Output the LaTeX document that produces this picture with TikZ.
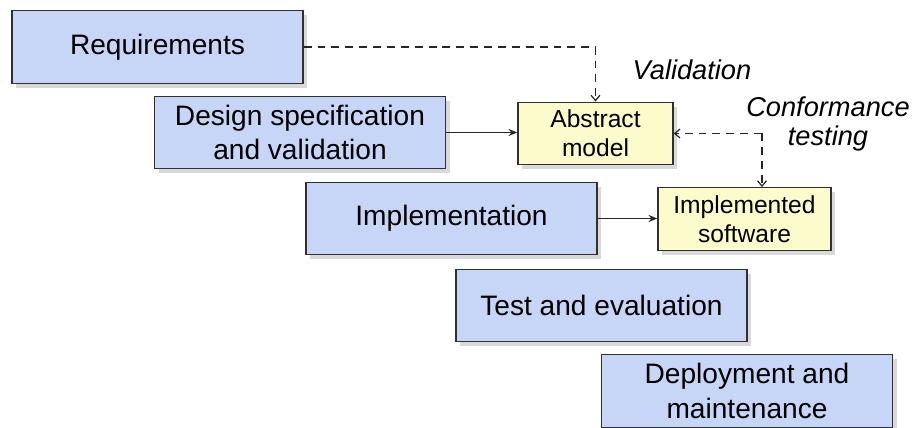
\documentclass[tikz,border=0pt]{standalone}
\usepackage{fontspec}
\setmainfont{Liberation Sans}
\usetikzlibrary{arrows.meta, shadows, positioning}
\definecolor{phaseblue}{HTML}{C7D6F7}
\definecolor{modelyellow}{HTML}{FCFBCC}
\definecolor{edgegray}{HTML}{303030}

\begin{document}
\begin{tikzpicture}[x=0.02cm, y=-0.02cm,
    phase/.style = {rectangle, draw=edgegray, fill=phaseblue, line width=0.8pt, align=center, font=\fontsize{16}{19.5}\selectfont, minimum width=5.82cm, minimum height=1.45cm, inner sep=0pt, drop shadow={shadow xshift=2.5pt, shadow yshift=-2.5pt, opacity=0.3}},
    artefact/.style = {rectangle, draw=edgegray, fill=modelyellow, line width=0.8pt, align=center, font=\fontsize{14}{16.5}\selectfont, minimum height=1.25cm, inner sep=0pt, drop shadow={shadow xshift=2.5pt, shadow yshift=-2.5pt, opacity=0.3}},
    flow/.style = {draw=black!85, -{Stealth[length=5pt, width=4pt]}, line width=0.7pt},
    check/.style = {draw=black!85, dash pattern=on 4.5pt off 3.4pt, -{Straight Barb[length=3pt, width=5pt]}, line width=0.7pt},
    note/.style = {align=center, font=\fontsize{15.5}{16}\selectfont\itshape}
]
\useasboundingbox (0,0) rectangle (920,428);

% Phases (staircase)
\node (req) [phase] at (157.5, 47) {Requirements};
\node (design) [phase] at (300, 132.5) {Design specification\\and validation};
\node (impl) [phase] at (451.5, 218.5) {Implementation};
\node (test) [phase] at (601.5, 305.5) {Test and evaluation};
\node (deploy) [phase] at (747, 391) {Deployment and\\maintenance};

% Artefacts
\node (abstract) [artefact, minimum width=3.1cm] at (595.5, 133.5) {Abstract\\model};
\node (software) [artefact, minimum width=3.46cm] at (744.5, 219) {Implemented\\software};

% Labels
\node (validation) [note] at (692, 70) {Validation};
\node (conformance) [note] at (828, 124) {Conformance\\testing};

% Solid flow
\draw [flow] (design.east) -- (design.east -| abstract.west);
\draw [flow] (impl.east) -- (impl.east -| software.west);

% Dashed checks
\draw [check] (req.east) -| (abstract.north);
\coordinate (confbend) at (762, 133.5);
\draw [check] (confbend) -- (abstract.east);
\draw [check] (confbend) -- (confbend |- software.north);

\end{tikzpicture}
\end{document}
